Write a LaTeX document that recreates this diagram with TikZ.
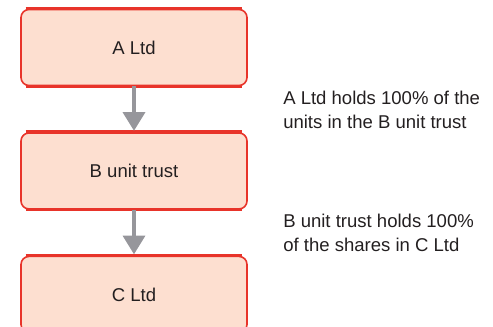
\documentclass[tikz,border=0pt]{standalone}
\usepackage{fontspec}
\setmainfont{Liberation Sans}
\usepackage{tikz}
\usetikzlibrary{arrows.meta, positioning}
\definecolor{boxred}{RGB}{232,52,42}
\definecolor{boxfill}{RGB}{253,223,208}
\definecolor{arrowgrey}{RGB}{150,150,155}
\definecolor{txt}{RGB}{35,31,32}

\begin{document}
\begin{tikzpicture}[x=0.75pt, y=-0.75pt, node distance=34.4pt,
  entity/.style={draw=boxred, fill=boxfill, line width=1.2pt, rounded corners=6pt,
    minimum width=169.5pt, minimum height=57pt, text=txt,
    font=\fontsize{13.9}{18}\selectfont},
  rim/.style={draw=boxred, line width=2.6pt},
  holds/.style={->, >={Triangle[width=16.5pt, length=14pt]}, draw=arrowgrey,
    fill=arrowgrey, line width=2.6pt, shorten >=1pt},
  note/.style={anchor=west, align=left, inner sep=0pt, text=txt,
    font=\fontsize{13.9}{18}\selectfont}]
\path[use as bounding box, clip] (0,0) rectangle (493,327);

\node (A) [entity] at (134,47.5) {A Ltd};
\node (B) [entity, below=of A] {B unit trust};
\node (C) [entity, below=of B] {C Ltd};

% heavier top and bottom edges
\foreach \n in {A,B,C} {
  \draw[rim] ([xshift=4pt]\n.north west) -- ([xshift=-4pt]\n.north east);
  \draw[rim] ([xshift=4pt]\n.south west) -- ([xshift=-4pt]\n.south east);
}

\draw[holds] (A) -- (B);
\draw[holds] (B) -- (C);

\node (AB) [note] at (283,110) {A Ltd holds 100\% of the\\units in the B unit trust};
\node (BC) [note] at (283,233) {B unit trust holds 100\%\\of the shares in C Ltd};
\end{tikzpicture}
\end{document}
